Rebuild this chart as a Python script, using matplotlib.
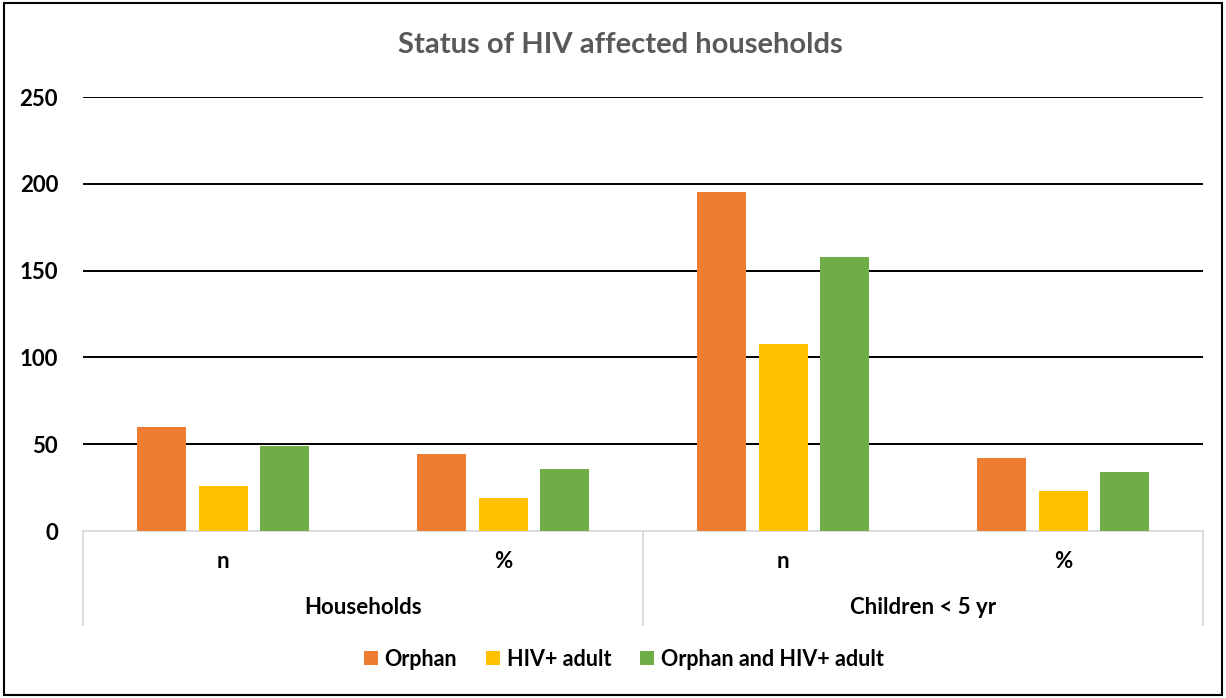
import matplotlib
matplotlib.use("Agg")
import matplotlib.pyplot as plt
from matplotlib.patches import Rectangle
import numpy as np

plt.rcParams['font.family'] = ['Lato', 'DejaVu Sans']

title = "Status of HIV affected households"
sub_labels = ["n", "%", "n", "%"]
group_labels = ["Households", "Children < 5 yr"]
series_names = ["Orphan", "HIV+ adult", "Orphan and HIV+ adult"]
orphan = [60, 44.1, 195, 42.0]
hiv_adult = [26, 19.1, 108, 23.3]
orphan_hiv = [49, 36.0, 158, 34.1]
colors = ["#ED7D31", "#FFC000", "#70AD47"]
yticks = [0, 50, 100, 150, 200, 250]

fig = plt.figure(figsize=(12.26, 6.98), dpi=100)
ax = fig.add_axes([83/1226, 1-531/698, (1203-83)/1226, (531-97)/698])

x = np.arange(len(sub_labels))
offsets = [-0.221, 0, 0.221]
width = 0.175
for vals, off, c, name in zip([orphan, hiv_adult, orphan_hiv], offsets, colors, series_names):
    ax.bar(x + off, vals, width=width, color=c, label=name, zorder=3)

ax.set_xlim(-0.5, 3.5)
ax.set_ylim(0, 250)
ax.set_yticks(yticks)
ax.set_yticklabels([str(t) for t in yticks], fontsize=16, fontweight='bold')
ax.tick_params(axis='y', length=0, pad=18)
ax.tick_params(axis='x', length=0)
ax.set_xticks([])
for t in yticks[1:]:
    ax.axhline(t, color='black', lw=1.4, zorder=1)
for s in ['top', 'right', 'left']:
    ax.spines[s].set_visible(False)
ax.spines['bottom'].set_color('#d9d9d9')
ax.spines['bottom'].set_linewidth(1.3)

# category labels
trans = ax.get_xaxis_transform()
for xi, lab in zip(x, sub_labels):
    ax.text(xi, -30/434, lab, transform=trans, ha='center', va='center',
            fontsize=16, fontweight='bold')
for gi, lab in enumerate(group_labels):
    ax.text(0.5 + 2*gi, -76/434, lab, transform=trans, ha='center', va='center',
            fontsize=16, fontweight='bold')
for xv in [-0.5, 1.5, 3.5]:
    ax.plot([xv, xv], [0, -94/434], transform=trans, color='#d9d9d9', lw=1.3, clip_on=False)

fig.text(0.506, 1-45/698, title, ha='center', va='center', fontsize=21,
         fontweight='bold', color='#595959')

fig.legend(loc='center', bbox_to_anchor=(0.509, 1-659/698), ncol=3, frameon=False,
           prop={'size': 15.5, 'weight': 'bold'}, handlelength=0.65, handleheight=0.65,
           handletextpad=0.3, columnspacing=1.35)

fig.patches.append(Rectangle((4/1226, 3/698), 1218/1226, 692/698, transform=fig.transFigure,
                             fill=False, edgecolor='black', lw=1.5))

fig.savefig("out.png", dpi=100)
